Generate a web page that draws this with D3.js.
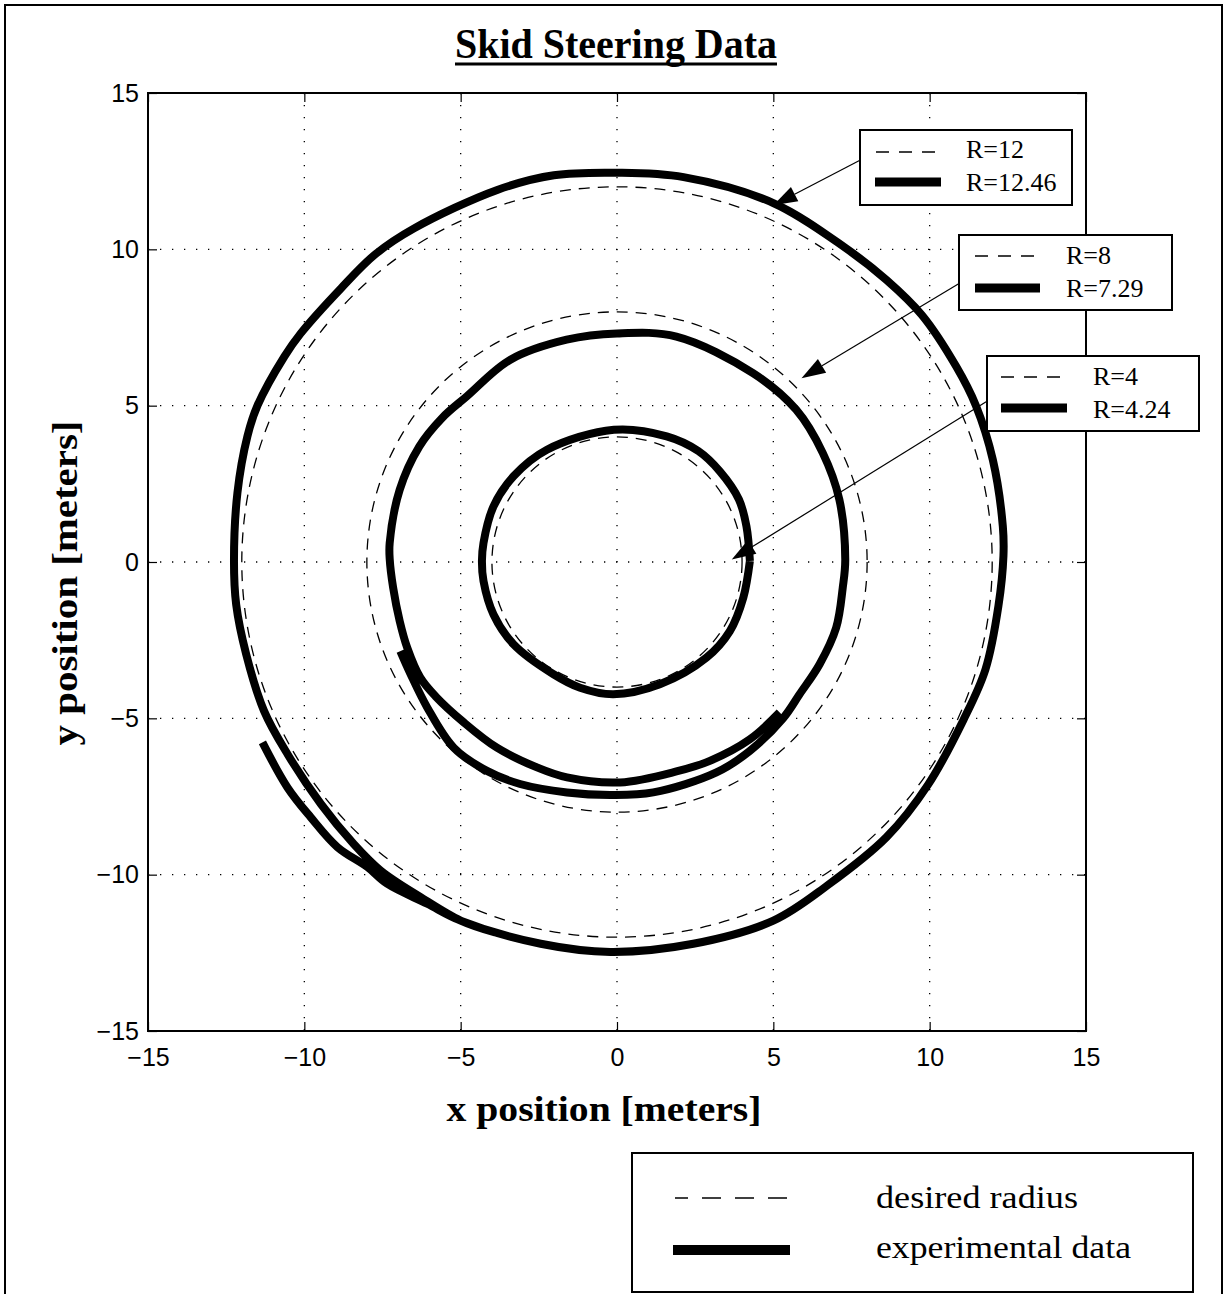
<!DOCTYPE html>
<html><head><meta charset="utf-8">
<script src="https://cdn.jsdelivr.net/npm/d3@7"></script>
<style>body{margin:0;background:#fff}</style>
</head><body>
<svg id="c" width="1228" height="1294"></svg>
<script>
// ---------- data (meters) ----------
const tickValues = [-15, -10, -5, 0, 5, 10, 15];
const tickLabels = ["\u221215", "\u221210", "\u22125", "0", "5", "10", "15"];
const desiredRadii = [12, 8, 4];
const measuredRadii = [12.46, 7.29, 4.24];

// outer run (R=12.46): starts lower-left, counter-clockwise, ends overlapping start
const outerRun = [
  [-11.34,-5.77],[-10.54,-7.21],[-9.80,-8.16],[-8.94,-9.12],[-7.98,-9.76],[-7.35,-10.29],
  [-6.07,-10.93],[-5.00,-11.47],[-2.44,-12.21],[-0.21,-12.47],[2.44,-12.21],[5.00,-11.47],
  [6.72,-10.35],[8.62,-8.80],[9.95,-7.12],[11.08,-5.05],[11.78,-3.45],[12.20,-1.40],
  [12.36,0.20],[12.34,1.14],[12.02,3.27],[11.48,5.00],[10.85,6.25],[9.75,7.90],[8.62,9.02],
  [7.30,10.05],[5.00,11.48],[2.13,12.31],[0.01,12.45],[-2.02,12.37],[-3.83,11.90],
  [-6.49,10.67],[-7.72,9.85],[-8.83,8.75],[-10.11,7.32],[-10.64,6.57],[-11.50,5.00],
  [-11.82,4.02],[-12.14,2.21],[-12.25,0.05],[-12.18,-1.36],[-11.86,-2.95],[-11.29,-4.76],
  [-10.54,-6.14],[-9.47,-7.74],[-8.42,-9.02],[-7.56,-9.87],[-6.28,-10.72],[-5.00,-11.47],
  [-3.90,-11.85]
];

// middle run (R=7.29): starts lower-right, clockwise, ends lower-left
const middleRun = [
  [5.20,-4.81],[4.25,-5.67],[2.97,-6.36],[1.90,-6.70],[0.10,-7.05],[-1.60,-6.89],
  [-2.56,-6.57],[-3.84,-5.94],[-4.90,-5.13],[-5.80,-4.30],[-6.29,-3.70],[-6.71,-2.74],
  [-6.95,-1.89],[-7.16,-0.82],[-7.27,0.10],[-7.27,0.61],[-6.95,2.31],[-6.32,3.70],
  [-5.60,4.60],[-4.80,5.30],[-3.41,6.47],[-1.61,7.11],[0.00,7.31],[1.90,7.21],[4.35,6.04],
  [5.73,4.87],[6.58,3.49],[7.11,2.00],[7.30,0.08],[7.22,-0.82],[7.01,-2.10],[6.48,-3.27],
  [5.84,-4.23],[5.31,-5.00],[4.25,-6.04],[3.18,-6.73],[1.16,-7.37],[-0.22,-7.45],
  [-1.60,-7.37],[-3.10,-7.10],[-4.16,-6.68],[-5.22,-5.94],[-6.07,-4.65],[-6.60,-3.59],
  [-6.93,-2.85]
];

// inner run (R=4.24): nearly closed loop
const innerRun = [
  [4.25,0.03],[4.14,1.14],[3.90,2.00],[3.29,2.90],[2.60,3.55],[1.59,4.02],[-0.10,4.23],
  [-2.24,3.59],[-3.31,2.74],[-3.95,1.78],[-4.27,0.61],[-4.32,0.03],[-4.27,-0.61],
  [-3.95,-1.68],[-3.31,-2.63],[-2.03,-3.59],[-1.18,-4.02],[-0.12,-4.23],[1.37,-3.91],
  [2.86,-3.06],[3.61,-2.21],[4.04,-1.14],[4.25,0.03]
];
const runs = [outerRun, middleRun, innerRun];

// annotation arrows: tail (at legend box) -> tip, in meters
const arrowTails = [[7.77,12.85],[10.94,8.91],[11.82,5.13]];
const arrowTips  = [[5.00,11.41],[5.90,5.88],[3.67,0.08]];

const titleText = "Skid Steering Data";
const xLabel = "x position [meters]";
const yLabel = "y position [meters]";
const legendLabels = ["desired radius", "experimental data"];

// ---------- drawing ----------
const svg = d3.select("#c");
const x = d3.scaleLinear().domain([-15, 15]).range([148, 1086]);
const y = d3.scaleLinear().domain([-15, 15]).range([1031, 93]);

// outer figure frame
svg.append("rect").attr("x", 5).attr("y", 5).attr("width", 1217).attr("height", 1300)
  .attr("fill", "none").attr("stroke", "#000").attr("stroke-width", 2);

// title
svg.append("text").attr("x", 616).attr("y", 58).attr("text-anchor", "middle")
  .attr("font-family", "Liberation Serif").attr("font-weight", "bold").attr("font-size", 42)
  .attr("textLength", 322).attr("lengthAdjust", "spacingAndGlyphs").text(titleText);
svg.append("line").attr("x1", 455).attr("x2", 777).attr("y1", 64).attr("y2", 64)
  .attr("stroke", "#000").attr("stroke-width", 3);

// grid
const grid = svg.append("g");
tickValues.slice(1, -1).forEach(v => {
  grid.append("line").attr("x1", x(v)).attr("x2", x(v)).attr("y1", y(15)).attr("y2", y(-15));
  grid.append("line").attr("y1", y(v)).attr("y2", y(v)).attr("x1", x(-15)).attr("x2", x(15));
});
grid.selectAll("line").attr("stroke", "#000").attr("stroke-width", 1.3)
  .attr("stroke-dasharray", "1.3,10.7");

// axes
const fmt = (d) => tickLabels[tickValues.indexOf(d)];
const axFont = (g) => { g.select(".domain").remove();
  g.selectAll("text").attr("font-family", "Liberation Sans").attr("font-size", 25).attr("fill", "#000");
  g.selectAll("line").attr("stroke", "#000").attr("stroke-width", 1.2); };
svg.append("g").attr("transform", `translate(0,${y(-15)})`)
  .call(d3.axisBottom(x).tickValues(tickValues).tickFormat(fmt).tickSize(-9).tickPadding(17)).call(axFont);
svg.append("g").attr("transform", `translate(${x(-15)},0)`)
  .call(d3.axisLeft(y).tickValues(tickValues).tickFormat(fmt).tickSize(-9).tickPadding(9)).call(axFont);
svg.append("g").attr("transform", `translate(0,${y(15)})`)
  .call(d3.axisTop(x).tickValues(tickValues).tickFormat("").tickSize(-9)).call(axFont);
svg.append("g").attr("transform", `translate(${x(15)},0)`)
  .call(d3.axisRight(y).tickValues(tickValues).tickFormat("").tickSize(-9)).call(axFont);

// desired circles
svg.append("g").selectAll("circle").data(desiredRadii).join("circle")
  .attr("cx", x(0)).attr("cy", y(0)).attr("r", d => x(d) - x(0))
  .attr("fill", "none").attr("stroke", "#000").attr("stroke-width", 1.3)
  .attr("stroke-dasharray", "11,8");

// experimental runs
const line = d3.line().x(d => x(d[0])).y(d => y(d[1])).curve(d3.curveCatmullRom.alpha(0.5));
svg.append("g").selectAll("path").data(runs).join("path")
  .attr("d", line).attr("fill", "none").attr("stroke", "#000").attr("stroke-width", 8)
  .attr("stroke-linejoin", "round").attr("stroke-linecap", "butt");

// plot box
svg.append("rect").attr("x", x(-15)).attr("y", y(15)).attr("width", x(15) - x(-15))
  .attr("height", y(-15) - y(15)).attr("fill", "none").attr("stroke", "#000").attr("stroke-width", 2);

// annotation boxes
const boxes = [
  {x: 860, y: 130, w: 212, h: 75, dash: [876, 935, 152], solid: [875, 941, 182], tx: 966, ty: [158, 191]},
  {x: 959, y: 235, w: 213, h: 75, dash: [975, 1035, 256], solid: [975, 1040, 288], tx: 1066, ty: [264, 297]},
  {x: 987, y: 356, w: 212, h: 75, dash: [1001, 1061, 377], solid: [1001, 1067, 408], tx: 1093, ty: [385, 418]}
];
const ann = svg.append("g");
arrowTails.forEach((t, i) => {
  const x1 = x(t[0]), y1 = y(t[1]), x2 = x(arrowTips[i][0]), y2 = y(arrowTips[i][1]);
  const a = Math.atan2(y2 - y1, x2 - x1), L = 24, W = 8;
  const bx = x2 - L * Math.cos(a), by = y2 - L * Math.sin(a);
  ann.append("line").attr("x1", x1).attr("y1", y1).attr("x2", bx).attr("y2", by)
    .attr("stroke", "#000").attr("stroke-width", 1.2);
  ann.append("path").attr("d", `M${x2},${y2}L${bx + W * Math.sin(a)},${by - W * Math.cos(a)}L${bx - W * Math.sin(a)},${by + W * Math.cos(a)}Z`)
    .attr("fill", "#000");
});
boxes.forEach((b, i) => {
  const g = ann.append("g");
  g.append("rect").attr("x", b.x).attr("y", b.y).attr("width", b.w).attr("height", b.h)
    .attr("fill", "#fff").attr("stroke", "#000").attr("stroke-width", 2);
  g.append("line").attr("x1", b.dash[0]).attr("x2", b.dash[1]).attr("y1", b.dash[2]).attr("y2", b.dash[2])
    .attr("stroke", "#000").attr("stroke-width", 1.5).attr("stroke-dasharray", "13,10");
  g.append("line").attr("x1", b.solid[0]).attr("x2", b.solid[1]).attr("y1", b.solid[2]).attr("y2", b.solid[2])
    .attr("stroke", "#000").attr("stroke-width", 9);
  ["R=" + desiredRadii[i], "R=" + measuredRadii[i]].forEach((s, j) => {
    g.append("text").attr("x", b.tx).attr("y", b.ty[j]).attr("font-family", "Liberation Serif")
      .attr("font-size", 26).text(s);
  });
});

// axis labels
svg.append("text").attr("x", 604).attr("y", 1121).attr("text-anchor", "middle")
  .attr("font-family", "Liberation Serif").attr("font-weight", "bold").attr("font-size", 36)
  .attr("textLength", 315).attr("lengthAdjust", "spacingAndGlyphs").text(xLabel);
svg.append("text").attr("transform", "translate(77,583) rotate(-90)").attr("text-anchor", "middle")
  .attr("font-family", "Liberation Serif").attr("font-weight", "bold").attr("font-size", 36)
  .attr("textLength", 325).attr("lengthAdjust", "spacingAndGlyphs").text(yLabel);

// bottom legend
const lg = svg.append("g");
lg.append("rect").attr("x", 632).attr("y", 1153).attr("width", 561).attr("height", 139)
  .attr("fill", "#fff").attr("stroke", "#000").attr("stroke-width", 2);
lg.append("line").attr("x1", 675).attr("x2", 787).attr("y1", 1198).attr("y2", 1198)
  .attr("stroke", "#000").attr("stroke-width", 1.5).attr("stroke-dasharray", "19,14").attr("stroke-dashoffset", 6);
lg.append("line").attr("x1", 673).attr("x2", 790).attr("y1", 1250).attr("y2", 1250)
  .attr("stroke", "#000").attr("stroke-width", 10);
lg.append("text").attr("x", 876).attr("y", 1208).attr("font-family", "Liberation Serif")
  .attr("font-size", 31).attr("textLength", 202).attr("lengthAdjust", "spacingAndGlyphs").text(legendLabels[0]);
lg.append("text").attr("x", 876).attr("y", 1258).attr("font-family", "Liberation Serif")
  .attr("font-size", 31).attr("textLength", 255).attr("lengthAdjust", "spacingAndGlyphs").text(legendLabels[1]);
</script>
</body></html>
